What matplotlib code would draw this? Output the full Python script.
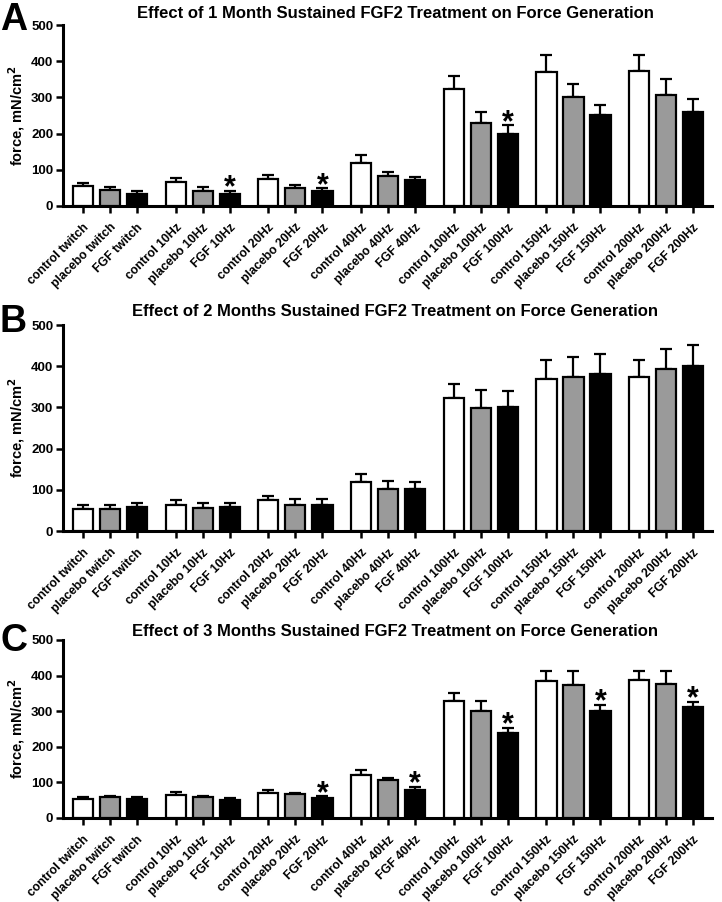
import numpy as np
import matplotlib
matplotlib.use("Agg")
import matplotlib.pyplot as plt
from matplotlib import font_manager

# --- data (mN/cm2) ---
tick_labels = [
    "control twitch", "placebo twitch", "FGF twitch",
    "control 10Hz", "placebo 10Hz", "FGF 10Hz",
    "control 20Hz", "placebo 20Hz", "FGF 20Hz",
    "control 40Hz", "placebo 40Hz", "FGF 40Hz",
    "control 100Hz", "placebo 100Hz", "FGF 100Hz",
    "control 150Hz", "placebo 150Hz", "FGF 150Hz",
    "control 200Hz", "placebo 200Hz", "FGF 200Hz",
]

titles = [
    "Effect of 1 Month Sustained FGF2 Treatment on Force Generation",
    "Effect of 2 Months Sustained FGF2 Treatment on Force Generation",
    "Effect of 3 Months Sustained FGF2 Treatment on Force Generation",
]
panel_letters = ["A", "B", "C"]

# panel A (1 month)
a_control = [55, 65, 74, 120, 323, 369, 374]
a_control_err = [8, 11, 12, 21, 36, 48, 42]
a_placebo = [43, 42, 50, 84, 229, 300, 307]
a_placebo_err = [9, 10, 9, 10, 32, 37, 43]
a_fgf = [34, 33, 42, 71, 200, 251, 261]
a_fgf_err = [8, 8, 7, 10, 23, 29, 35]
a_stars = [1, 2, 4]          # group index of FGF bars with *

# panel B (2 months)
b_control = [54, 64, 75, 119, 322, 368, 373]
b_control_err = [8, 11, 11, 20, 34, 48, 41]
b_placebo = [53, 55, 63, 102, 298, 374, 393]
b_placebo_err = [11, 14, 15, 19, 45, 49, 49]
b_fgf = [58, 58, 64, 101, 301, 382, 400]
b_fgf_err = [11, 11, 14, 18, 38, 48, 51]
b_stars = []

# panel C (3 months)
c_control = [53, 64, 70, 122, 328, 385, 388]
c_control_err = [6, 9, 9, 14, 24, 29, 26]
c_placebo = [58, 58, 67, 106, 301, 373, 377]
c_placebo_err = [3, 3, 4, 6, 29, 39, 35]
c_fgf = [54, 51, 57, 80, 239, 300, 311]
c_fgf_err = [4, 5, 4, 8, 15, 17, 16]
c_stars = [2, 3, 4, 5, 6]

series_colors = ["white", "#9a9a9a", "black"]

names = [f.name for f in font_manager.fontManager.ttflist]
narrow = "Liberation Sans Narrow" if "Liberation Sans Narrow" in names else "Liberation Sans"
plt.rcParams["font.family"] = ["Liberation Sans", "DejaVu Sans"]
plt.rcParams["font.weight"] = "bold"

fig = plt.figure(figsize=(7.22, 9.02), dpi=100)
W, H = 722.0, 902.0

# axes boxes in pixels: (top, bottom)
boxes = [(25, 206), (325, 531), (640, 818)]
left_px, right_px = 63, 712

panels = [
    (a_control, a_control_err, a_placebo, a_placebo_err, a_fgf, a_fgf_err, a_stars),
    (b_control, b_control_err, b_placebo, b_placebo_err, b_fgf, b_fgf_err, b_stars),
    (c_control, c_control_err, c_placebo, c_placebo_err, c_fgf, c_fgf_err, c_stars),
]

group_step = 3.43
ngroups = 7
base = np.arange(ngroups) * group_step

for p, (top, bot) in enumerate(boxes):
    ax = fig.add_axes([left_px / W, 1 - bot / H, (right_px - left_px) / W, (bot - top) / H])
    ctrl, ctrl_e, plac, plac_e, fgf, fgf_e, stars = panels[p]
    vals = [ctrl, plac, fgf]
    errs = [ctrl_e, plac_e, fgf_e]
    all_x = []
    for j in range(3):
        x = base + j
        all_x.append(x)
        ax.errorbar(x, vals[j], yerr=[np.zeros(ngroups), errs[j]], fmt="none",
                    ecolor="black", elinewidth=1.6, capsize=4, capthick=1.6, zorder=2)
        ax.bar(x, vals[j], width=0.75, color=series_colors[j], edgecolor="black",
               linewidth=1.6, zorder=3)
    for g in stars:
        ytop = fgf[g] + fgf_e[g]
        ax.annotate("*", xy=(base[g] + 2, ytop), xytext=(0, -4), textcoords="offset points",
                    ha="center", va="baseline", fontsize=22, fontweight="bold")

    xs = np.sort(np.concatenate(all_x))
    ax.set_xlim(-0.74, base[-1] + 2 + 0.7)
    ax.set_ylim(0, 500)
    ax.set_yticks([0, 100, 200, 300, 400, 500])
    ax.set_xticks(xs)
    ax.set_xticklabels(tick_labels, rotation=45, ha="right", rotation_mode="anchor",
                       fontweight="bold")
    ax.tick_params(axis="both", direction="out", length=5, width=1.8)
    ax.tick_params(axis="y", labelsize=9.5, pad=2)
    ax.tick_params(axis="x", labelsize=8.8, pad=6)
    for lab in ax.get_yticklabels():
        lab.set_fontweight("bold")
    for s in ["top", "right"]:
        ax.spines[s].set_visible(False)
    for s in ["left", "bottom"]:
        ax.spines[s].set_linewidth(2.2)
    ax.set_ylabel("force, mN/cm$^\\mathbf{2}$", fontsize=10.5, fontweight="bold", labelpad=3)

    title_y = [14, 311, 632][p]
    fig.text(395 / W, 1 - title_y / H, titles[p], ha="center", va="center",
             fontsize=12, fontweight="bold", family=[narrow, "DejaVu Sans"])
    letter_y = [20, 322, 641][p]
    fig.text(0, 1 - letter_y / H, panel_letters[p], ha="left", va="center",
             fontsize=27, fontweight="bold")

fig.savefig("out.png", dpi=100)
